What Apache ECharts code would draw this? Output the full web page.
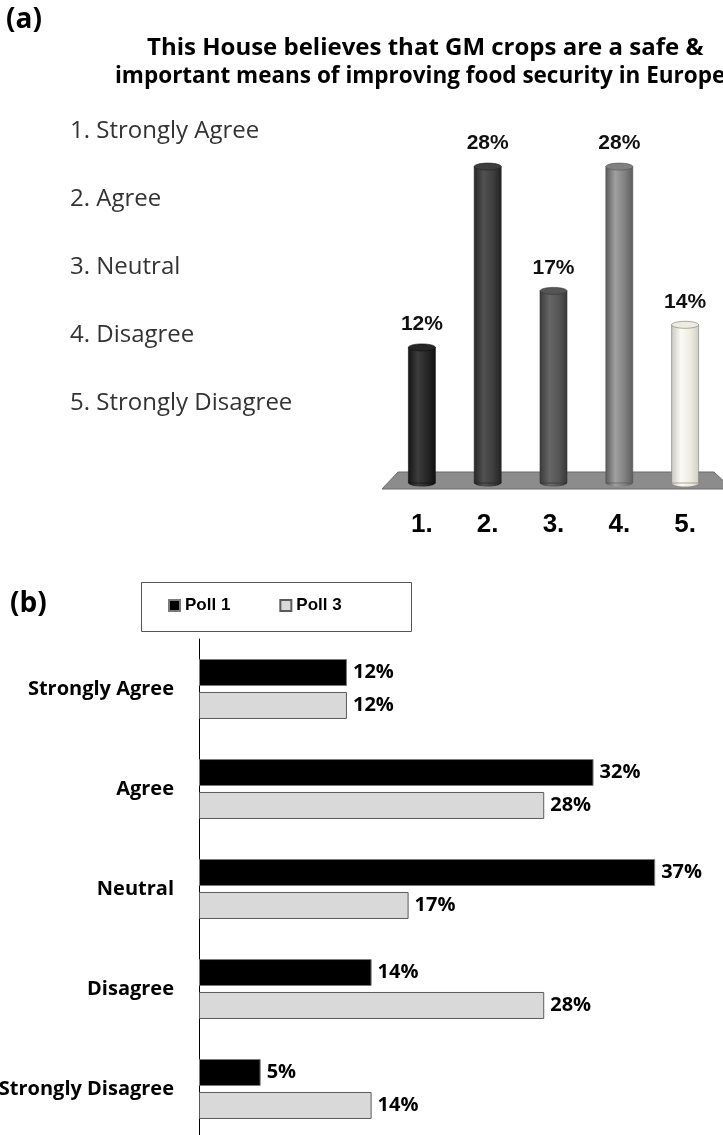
<!DOCTYPE html>
<html>
<head>
<meta charset="utf-8">
<script src="https://cdn.jsdelivr.net/npm/echarts@6/dist/echarts.min.js"></script>
<style>
html,body{margin:0;padding:0;background:#fff;}
#chart{width:723px;height:1135px;}
</style>
</head>
<body>
<div id="chart"></div>
<script>
// ---- data ----
const titleLines = ['This House believes that GM crops are a safe &', 'important means of improving food security in Europe'];
const answerNames = ['Strongly Agree', 'Agree', 'Neutral', 'Disagree', 'Strongly Disagree'];
const answerNumbers = ['1.', '2.', '3.', '4.', '5.'];
const voteA = [12, 28, 17, 28, 14];
const seriesNames = ['Poll 1', 'Poll 3'];
const poll1 = [12, 32, 37, 14, 5];
const poll3 = [12, 28, 17, 28, 14];

// ---- styles ----
const cylStyles = [
  {stops: ['#141414', '#3c3c3c', '#262626', '#101010'], edge: '#111'},
  {stops: ['#262626', '#515151', '#3e3e3e', '#222222'], edge: '#222'},
  {stops: ['#3a3a3a', '#666666', '#555555', '#383838'], edge: '#333'},
  {stops: ['#5a5a5a', '#a0a0a0', '#808080', '#5c5c5c'], edge: '#555'},
  {stops: ['#c8c8be', '#fbfbf4', '#ecece0', '#cfcfc4'], edge: '#777'}
];
const calibri = '"Open Sans", Lato, sans-serif';
const arial = '"Liberation Sans", Arial, sans-serif';

function grad(s) {
  return new echarts.graphic.LinearGradient(0, 0, 1, 0, [
    {offset: 0, color: s.stops[0]},
    {offset: 0.35, color: s.stops[1]},
    {offset: 0.7, color: s.stops[2]},
    {offset: 1, color: s.stops[3]}
  ]);
}

const chart = echarts.init(document.getElementById('chart'), null, {renderer: 'canvas'});

const graphics = [
  // floor plate under the cylinders
  {type: 'polygon', z: 0, shape: {points: [[398, 472], [714, 472], [732, 489], [382, 489]]},
   style: {fill: '#8c8c8c', stroke: '#6a6a6a', lineWidth: 1}},
  // legend box
  {type: 'rect', z: 0, shape: {x: 141.5, y: 582.5, width: 270, height: 49},
   style: {fill: '#fff', stroke: '#555', lineWidth: 1}}
];
answerNames.forEach((n, i) => {
  graphics.push({type: 'text', left: 70, top: 119 + i * 68,
    style: {text: answerNumbers[i] + ' ' + n, font: '24px ' + calibri, fill: '#333'}});
});

const option = {
  animation: false,
  backgroundColor: '#fff',
  title: [
    {text: '(a)', left: 1, top: 1, textStyle: {fontFamily: calibri, fontWeight: 'bold', fontSize: 28, color: '#000'}},
    {text: titleLines[0], left: 142, top: 31, textStyle: {fontFamily: calibri, fontWeight: 'bold', fontSize: 24, color: '#000'}},
    {text: titleLines[1], left: 110, top: 60, textStyle: {fontFamily: calibri, fontWeight: 'bold', fontSize: 22.5, color: '#000'}},
    {text: '(b)', left: 5, top: 585, textStyle: {fontFamily: calibri, fontWeight: 'bold', fontSize: 28, color: '#000'}}
  ],
  graphic: graphics,
  legend: {
    data: seriesNames, left: 168, top: 597, padding: 0, itemWidth: 11, itemHeight: 11, itemGap: 49,
    icon: 'rect',
    textStyle: {fontFamily: arial, fontWeight: 'bold', fontSize: 17, color: '#000'}
  },
  grid: [
    {left: 389, width: 329, top: 144, height: 339, outerBoundsMode: 'none', containLabel: false},
    {left: 199, width: 524, top: 639, height: 500, outerBoundsMode: 'none', containLabel: false}
  ],
  xAxis: [
    {gridIndex: 0, type: 'category', data: answerNumbers,
     axisLine: {show: false}, axisTick: {show: false},
     axisLabel: {margin: 29, fontFamily: arial, fontWeight: 'bold', fontSize: 26, color: '#000'}},
    {gridIndex: 1, type: 'value', min: 0, max: 42.5, show: false}
  ],
  yAxis: [
    {gridIndex: 0, type: 'value', min: 0, max: 30, show: false},
    {gridIndex: 1, type: 'category', data: answerNames, inverse: true,
     axisLine: {show: true, lineStyle: {color: '#000', width: 1}}, axisTick: {show: false},
     axisLabel: {margin: 25, fontFamily: calibri, fontWeight: 'bold', fontSize: 20, color: '#000'}}
  ],
  series: [
    {
      type: 'custom', xAxisIndex: 0, yAxisIndex: 0,
      data: voteA.map((v, i) => [i, v]),
      renderItem: function (params, api) {
        const i = api.value(0), v = api.value(1);
        const top = api.coord([i, v]);
        const base = api.coord([i, 0]);
        const w = 27, rx = w / 2, ry = 3.5;
        const s = cylStyles[params.dataIndex];
        const cx = top[0];
        return {
          type: 'group',
          children: [
            {type: 'ellipse', shape: {cx: cx, cy: base[1], rx: rx, ry: ry}, style: {fill: grad(s)}},
            {type: 'rect', shape: {x: cx - rx, y: top[1], width: w, height: base[1] - top[1]},
             style: {fill: grad(s), stroke: s.edge, lineWidth: 0.6}},
            {type: 'ellipse', shape: {cx: cx, cy: top[1], rx: rx, ry: ry},
             style: {fill: s.stops[2], stroke: s.edge, lineWidth: 0.6}},
            {type: 'text', style: {text: v + '%', x: cx, y: top[1] - 23, align: 'center', verticalAlign: 'middle',
              font: 'bold 21px ' + arial, fill: '#111'}}
          ]
        };
      }
    },
    {
      name: seriesNames[0], type: 'bar', xAxisIndex: 1, yAxisIndex: 1, data: poll1,
      barWidth: 27, barGap: '22%',
      itemStyle: {color: '#000', borderColor: '#7a7a7a', borderWidth: 1},
      label: {show: true, position: 'right', distance: 6, formatter: '{c}%',
        fontFamily: calibri, fontWeight: 'bold', fontSize: 20, color: '#000'}
    },
    {
      name: seriesNames[1], type: 'bar', xAxisIndex: 1, yAxisIndex: 1, data: poll3,
      barWidth: 27, barGap: '22%',
      itemStyle: {color: '#d9d9d9', borderColor: '#5a5a5a', borderWidth: 1},
      label: {show: true, position: 'right', distance: 6, formatter: '{c}%',
        fontFamily: calibri, fontWeight: 'bold', fontSize: 20, color: '#000'}
    }
  ]
};
chart.setOption(option);
</script>
</body>
</html>
